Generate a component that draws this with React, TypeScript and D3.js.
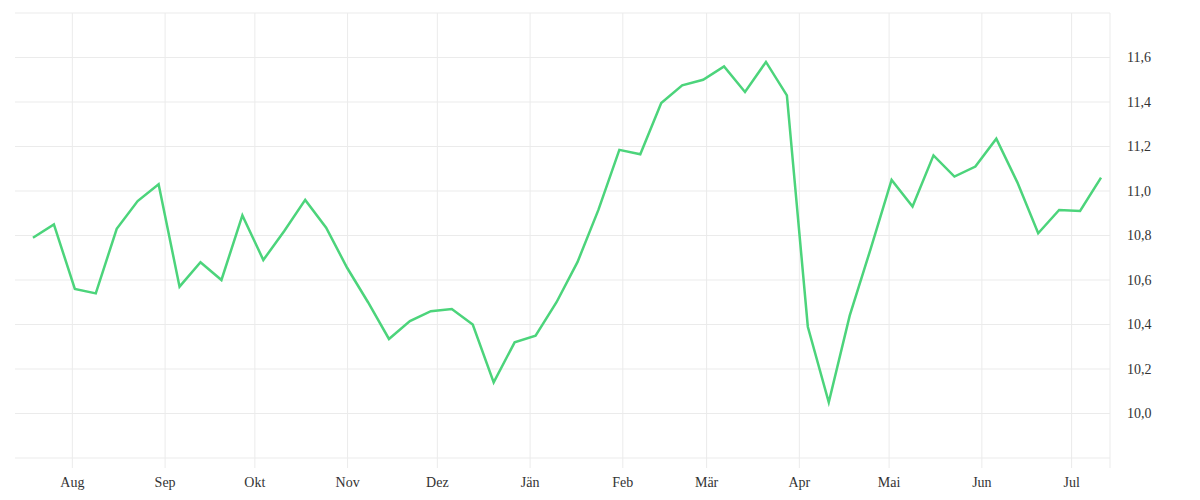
import { useEffect, useRef } from "react";
import * as d3 from "d3";

const dates = [
  "2022-07-19", "2022-07-26", "2022-08-02", "2022-08-09", "2022-08-16", "2022-08-23", "2022-08-30",
  "2022-09-06", "2022-09-13", "2022-09-20", "2022-09-27", "2022-10-04", "2022-10-11", "2022-10-18",
  "2022-10-25", "2022-11-01", "2022-11-08", "2022-11-15", "2022-11-22", "2022-11-29", "2022-12-06",
  "2022-12-13", "2022-12-20", "2022-12-27", "2023-01-03", "2023-01-10", "2023-01-17", "2023-01-24",
  "2023-01-31", "2023-02-07", "2023-02-14", "2023-02-21", "2023-02-28", "2023-03-07", "2023-03-14",
  "2023-03-21", "2023-03-28", "2023-04-04", "2023-04-11", "2023-04-18", "2023-04-25", "2023-05-02",
  "2023-05-09", "2023-05-16", "2023-05-23", "2023-05-30", "2023-06-06", "2023-06-13", "2023-06-20",
  "2023-06-27", "2023-07-04", "2023-07-11",
];

const values = [
  10.79, 10.85, 10.56, 10.54, 10.83, 10.955, 11.03,
  10.57, 10.68, 10.6, 10.89, 10.69, 10.82, 10.96,
  10.835, 10.655, 10.5, 10.335, 10.415, 10.46, 10.47,
  10.4, 10.14, 10.32, 10.35, 10.5, 10.68, 10.915,
  11.185, 11.165, 11.395, 11.475, 11.5, 11.56, 11.445,
  11.58, 11.43, 10.39, 10.05, 10.44, 10.74, 11.05,
  10.93, 11.16, 11.065, 11.11, 11.235, 11.04, 10.81,
  10.915, 10.91, 11.06,
];

const monthNames = ["Jän", "Feb", "Mär", "Apr", "Mai", "Jun", "Jul", "Aug", "Sep", "Okt", "Nov", "Dez"];
const gridValues = [9.8, 10.0, 10.2, 10.4, 10.6, 10.8, 11.0, 11.2, 11.4, 11.6, 11.8];
const labelValues = [10.0, 10.2, 10.4, 10.6, 10.8, 11.0, 11.2, 11.4, 11.6];

const App = () => {
  const chartRef = useRef<SVGSVGElement>(null);

  useEffect(() => {
    if (!chartRef.current) return;
    const width = 1200;
    const height = 500;
    const margin = { top: 13, right: 90, bottom: 42, left: 15 };
    const tickBelow = 10;
    const font = "Liberation Serif";

    const svg = d3.select(chartRef.current);
    svg.selectAll("*").remove();

    const parse = d3.timeParse("%Y-%m-%d");
    const data = dates.map((d, i) => ({ date: parse(d) as Date, value: values[i] }));

    const xScale = d3
      .scaleTime()
      .domain([new Date(2022, 6, 13), new Date(2023, 6, 14)])
      .range([margin.left, width - margin.right]);

    const yScale = d3
      .scaleLinear()
      .domain([9.8, 11.8])
      .range([height - margin.bottom, margin.top]);

    const de = d3.formatLocale({ decimal: ",", thousands: ".", grouping: [3], currency: ["", "€"] });
    const fmt = de.format(".1f");

    // horizontal grid
    svg
      .append("g")
      .selectAll("line")
      .data(gridValues)
      .join("line")
      .attr("x1", margin.left)
      .attr("x2", width - margin.right)
      .attr("y1", (d) => yScale(d))
      .attr("y2", (d) => yScale(d))
      .attr("stroke", "#ebebeb")
      .attr("stroke-width", 1);

    // x axis with vertical grid
    const xAxis = svg
      .append("g")
      .attr("transform", `translate(0,${height - margin.bottom + tickBelow})`)
      .call(
        d3
          .axisBottom<Date>(xScale)
          .ticks(d3.timeMonth.every(1))
          .tickSize(-(height - margin.bottom + tickBelow - margin.top))
          .tickPadding(9)
          .tickFormat((d) => monthNames[(d as Date).getMonth()])
      )
      .attr("font-family", font)
      .attr("font-size", 14);
    xAxis.select(".domain").remove();
    xAxis.selectAll(".tick line").attr("stroke", "#ebebeb");
    xAxis.selectAll(".tick text").attr("fill", "#333");

    // right edge
    svg
      .append("line")
      .attr("x1", xScale.range()[1])
      .attr("x2", xScale.range()[1])
      .attr("y1", margin.top)
      .attr("y2", height - margin.bottom + tickBelow)
      .attr("stroke", "#ebebeb");

    // y axis labels
    const yAxis = svg
      .append("g")
      .attr("transform", `translate(${width - margin.right},0)`)
      .call(
        d3
          .axisRight(yScale)
          .tickValues(labelValues)
          .tickSize(0)
          .tickPadding(17)
          .tickFormat((d) => fmt(d as number))
      )
      .attr("font-family", font)
      .attr("font-size", 14);
    yAxis.select(".domain").remove();
    yAxis.selectAll(".tick text").attr("fill", "#333");

    const line = d3
      .line<{ date: Date; value: number }>()
      .x((d) => xScale(d.date))
      .y((d) => yScale(d.value));

    svg
      .append("path")
      .datum(data)
      .attr("d", line)
      .attr("fill", "none")
      .attr("stroke", "#4cd47b")
      .attr("stroke-width", 2.5)
      .attr("stroke-linejoin", "miter");
  }, []);

  return (
    <svg
      ref={chartRef}
      width={1200}
      height={500}
      style={{ position: "absolute", left: 0, top: 0, background: "#fff" }}
    />
  );
};

export default App;
